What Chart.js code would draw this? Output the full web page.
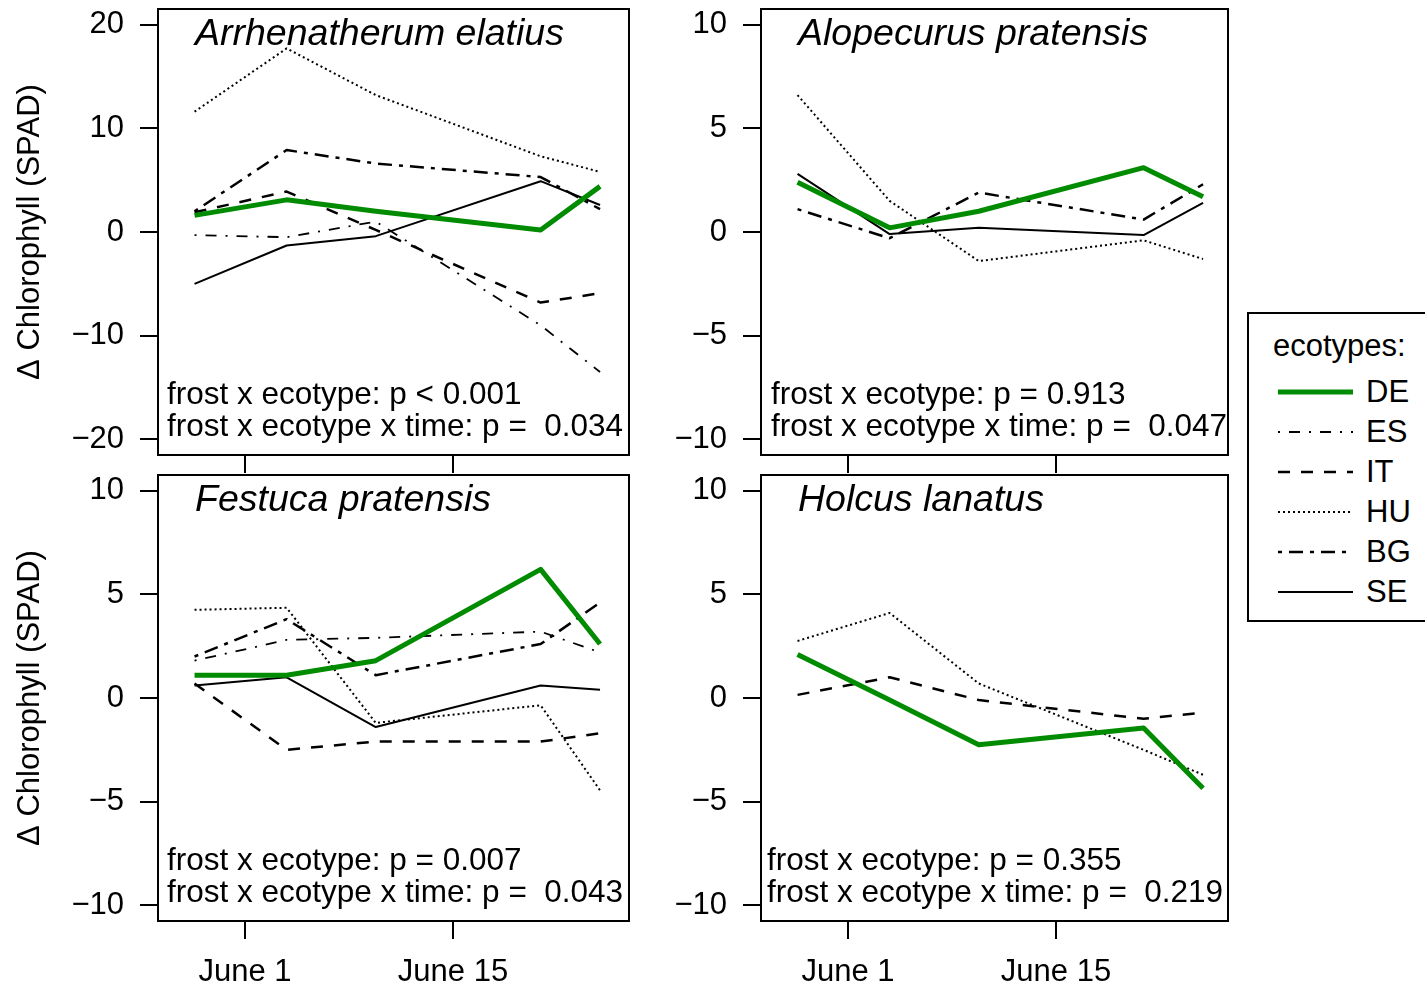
<!DOCTYPE html>
<html lang="en">
<head>
    <meta charset="UTF-8">
    <title>Chlorophyll change after frost by ecotype</title>
    <script src="https://cdn.jsdelivr.net/npm/chart.js"></script>
    <style>
        body {
            margin: 0;
            width: 1425px;
            height: 984px;
            overflow: hidden;
            background: #fff;
            font-family: "Liberation Sans", Arial, sans-serif;
        }

        canvas {
            position: absolute;
        }

        #legend {
            position: absolute;
            left: 1247px;
            top: 312px;
            width: 200px;
            height: 306px;
            border: 2px solid #000;
            box-sizing: content-box;
        }

        #legend .lg-title,
        #legend .lg-label {
            position: absolute;
            font-size: 31px;
            line-height: 36px;
            color: #000;
            white-space: nowrap;
        }

        #legend svg {
            position: absolute;
        }
    </style>
</head>
<body>
    <canvas id="panelArr" width="645" height="475" style="left:0;top:0"></canvas>
    <canvas id="panelAlo" width="600" height="475" style="left:645px;top:0"></canvas>
    <canvas id="panelFes" width="645" height="518" style="left:0;top:466px"></canvas>
    <canvas id="panelHol" width="600" height="518" style="left:645px;top:466px"></canvas>
    <div id="legend"></div>

    <script>
        // measurement dates, as day of June (June 1 = 1)
        const days = [-2.4, 3.8, 9.8, 20.9, 24.9];
        const xTicks = [1, 15];
        const xTickLabels = ['June 1', 'June 15'];
        const yTicksWide = [-20, -10, 0, 10, 20];
        const yTicksNarrow = [-10, -5, 0, 5, 10];

        const ecotypes = ['DE', 'ES', 'IT', 'HU', 'BG', 'SE'];

        // Arrhenatherum elatius
        const arrDE = [1.6, 3.1, 2.0, 0.2, 4.4];
        const arrES = [-0.3, -0.5, 1.0, -9.0, -13.5];
        const arrIT = [1.9, 3.9, 0.2, -6.8, -5.9];
        const arrHU = [11.6, 17.7, 13.2, 7.3, 5.8];
        const arrBG = [2.0, 7.9, 6.6, 5.3, 2.2];
        const arrSE = [-5.0, -1.3, -0.4, 4.9, 2.6];

        // Alopecurus pratensis
        const aloDE = [2.4, 0.2, 1.0, 3.1, 1.7];
        const aloHU = [6.6, 1.5, -1.4, -0.4, -1.3];
        const aloBG = [1.1, -0.3, 1.9, 0.6, 2.3];
        const aloSE = [2.8, -0.1, 0.2, -0.15, 1.4];

        // Festuca pratensis
        const fesDE = [1.1, 1.1, 1.8, 6.2, 2.6];
        const fesES = [1.8, 2.8, 2.9, 3.2, 2.2];
        const fesIT = [0.7, -2.5, -2.1, -2.1, -1.7];
        const fesHU = [4.25, 4.35, -1.2, -0.35, -4.45];
        const fesBG = [2.0, 3.8, 1.1, 2.6, 4.6];
        const fesSE = [0.6, 1.0, -1.4, 0.6, 0.4];

        // Holcus lanatus
        const holDE = [2.1, -0.1, -2.25, -1.45, -4.35];
        const holIT = [0.15, 1.0, -0.1, -1.0, -0.7];
        const holHU = [2.75, 4.1, 0.7, -2.5, -3.7];

        // line look per ecotype
        const lineStyles = {
            DE: { color: '#008B00', width: 5, dash: [] },
            ES: { color: '#000', width: 1.8, dash: [2, 9, 11, 9] },
            IT: { color: '#000', width: 2.5, dash: [12, 11] },
            HU: { color: '#000', width: 2, dash: [2, 3] },
            BG: { color: '#000', width: 2.5, dash: [4, 7, 14, 7] },
            SE: { color: '#000', width: 2, dash: [] }
        };

        const FONT = '"Liberation Sans", Arial, sans-serif';
        const minus = v => (v < 0 ? '\u2212' + Math.abs(v) : String(v));

        // box around the plot area, species name and test results
        const panelDecor = {
            id: 'panelDecor',
            afterDraw(chart, args, opts) {
                const { ctx, chartArea: a } = chart;
                ctx.save();
                ctx.strokeStyle = '#000';
                ctx.lineWidth = 2;
                ctx.strokeRect(a.left, a.top, a.right - a.left, a.bottom - a.top);

                ctx.fillStyle = '#000';
                ctx.textBaseline = 'alphabetic';
                ctx.textAlign = 'left';
                ctx.font = 'italic 37.5px ' + FONT;
                ctx.fillText(opts.title, a.left + 37, a.top + 36);

                ctx.font = '31.5px ' + FONT;
                ctx.fillText(opts.stats[0], a.left + opts.statsDx, a.bottom - 51);
                ctx.fillText(opts.stats[1], a.left + opts.statsDx, a.bottom - 19);
                ctx.restore();
            }
        };

        function makePanel(id, cfg) {
            const datasets = cfg.series.map(([name, values]) => ({
                label: name,
                data: days.map((d, i) => ({ x: d, y: values[i] })),
                borderColor: lineStyles[name].color,
                borderWidth: lineStyles[name].width,
                borderDash: lineStyles[name].dash,
                borderCapStyle: 'butt',
                borderJoinStyle: 'round',
                pointRadius: 0,
                tension: 0,
                fill: false
            }));

            return new Chart(document.getElementById(id), {
                type: 'line',
                data: { datasets },
                options: {
                    responsive: false,
                    animation: false,
                    events: [],
                    layout: { padding: { top: 9, right: cfg.padRight, left: 0, bottom: 0 } },
                    plugins: {
                        legend: { display: false },
                        tooltip: { enabled: false },
                        panelDecor: { title: cfg.title, stats: cfg.stats, statsDx: cfg.statsDx }
                    },
                    scales: {
                        x: {
                            type: 'linear',
                            min: -4.86,
                            max: cfg.xMax,
                            afterBuildTicks: s => { s.ticks = xTicks.map(v => ({ value: v })); },
                            afterFit: s => { s.height = cfg.xHeight; s.paddingLeft = 0; s.paddingRight = 0; },
                            border: { display: false },
                            grid: { drawOnChartArea: false, drawTicks: true, tickLength: 18, color: '#000', lineWidth: 2 },
                            ticks: {
                                display: cfg.xLabels,
                                autoSkip: false,
                                maxRotation: 0,
                                padding: 15,
                                color: '#000',
                                font: { family: FONT, size: 31 },
                                callback: v => xTickLabels[xTicks.indexOf(v)]
                            }
                        },
                        y: {
                            min: -cfg.yLim,
                            max: cfg.yLim,
                            afterBuildTicks: s => { s.ticks = cfg.yTicks.map(v => ({ value: v })); },
                            afterFit: s => { s.width = cfg.yWidth; s.paddingTop = 0; s.paddingBottom = 0; },
                            border: { display: false },
                            grid: { drawOnChartArea: false, drawTicks: true, tickLength: 18, color: '#000', lineWidth: 2 },
                            ticks: {
                                padding: 16,
                                color: '#000',
                                font: { family: FONT, size: 31 },
                                callback: v => minus(v)
                            },
                            title: {
                                display: cfg.yTitle,
                                text: '\u0394 Chlorophyll (SPAD)',
                                color: '#000',
                                font: { family: FONT, size: 31 },
                                padding: { top: 12, bottom: 0 }
                            }
                        }
                    }
                },
                plugins: [panelDecor]
            });
        }

        makePanel('panelArr', {
            title: 'Arrhenatherum elatius',
            stats: ['frost x ecotype: p < 0.001', 'frost x ecotype x time: p =  0.034'],
            statsDx: 9,
            series: [['DE', arrDE], ['ES', arrES], ['IT', arrIT], ['HU', arrHU], ['BG', arrBG], ['SE', arrSE]],
            yLim: 21.5, yTicks: yTicksWide, yWidth: 158, yTitle: true,
            xMax: 26.85, padRight: 16, xHeight: 20, xLabels: false
        });

        makePanel('panelAlo', {
            title: 'Alopecurus pratensis',
            stats: ['frost x ecotype: p = 0.913', 'frost x ecotype x time: p =  0.047'],
            statsDx: 10,
            series: [['DE', aloDE], ['HU', aloHU], ['BG', aloBG], ['SE', aloSE]],
            yLim: 10.75, yTicks: yTicksNarrow, yWidth: 116, yTitle: false,
            xMax: 26.58, padRight: 17, xHeight: 20, xLabels: false
        });

        makePanel('panelFes', {
            title: 'Festuca pratensis',
            stats: ['frost x ecotype: p = 0.007', 'frost x ecotype x time: p =  0.043'],
            statsDx: 9,
            series: [['DE', fesDE], ['ES', fesES], ['IT', fesIT], ['HU', fesHU], ['BG', fesBG], ['SE', fesSE]],
            yLim: 10.75, yTicks: yTicksNarrow, yWidth: 158, yTitle: true,
            xMax: 26.85, padRight: 16, xHeight: 63, xLabels: true
        });

        makePanel('panelHol', {
            title: 'Holcus lanatus',
            stats: ['frost x ecotype: p = 0.355', 'frost x ecotype x time: p =  0.219'],
            statsDx: 6,
            series: [['DE', holDE], ['IT', holIT], ['HU', holHU]],
            yLim: 10.75, yTicks: yTicksNarrow, yWidth: 116, yTitle: false,
            xMax: 26.58, padRight: 17, xHeight: 63, xLabels: true
        });

        // shared legend for the ecotypes
        const legend = document.getElementById('legend');
        legend.innerHTML = '<div class="lg-title" style="left:24px;top:14px">ecotypes:</div>';
        ecotypes.forEach((name, i) => {
            const st = lineStyles[name];
            const cy = 78 + 40 * i;
            legend.innerHTML +=
                `<svg width="76" height="12" style="left:29px;top:${cy - 6}px">
                    <line x1="0" y1="6" x2="75" y2="6" stroke="${st.color}" stroke-width="${st.width}"
                        stroke-dasharray="${st.dash.length ? st.dash.join(' ') : 'none'}"/>
                 </svg>
                 <div class="lg-label" style="left:117px;top:${cy - 18}px">${name}</div>`;
        });
    </script>
</body>
</html>
